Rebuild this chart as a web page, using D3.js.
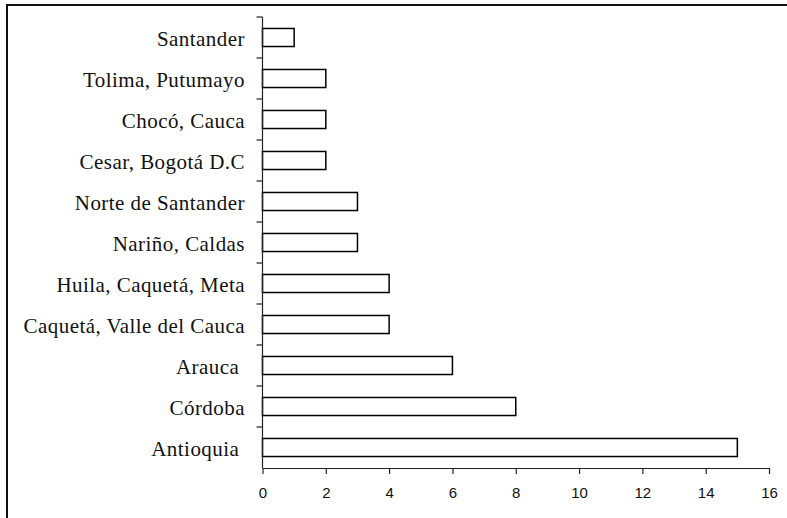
<!DOCTYPE html>
<html>
<head>
<meta charset="utf-8">
<script src="https://cdn.jsdelivr.net/npm/d3@7"></script>
<style>
  html, body { margin: 0; padding: 0; background: #fff; }
  svg { display: block; }
</style>
</head>
<body>
<script>
const categories = [
  "Santander",
  "Tolima, Putumayo",
  "Chocó, Cauca",
  "Cesar, Bogotá D.C",
  "Norte de Santander",
  "Nariño, Caldas",
  "Huila, Caquetá, Meta",
  "Caquetá, Valle del Cauca",
  "Arauca ",
  "Córdoba",
  "Antioquia "
];
const values = [1, 2, 2, 2, 3, 3, 4, 4, 6, 8, 15];
const xTicks = [0, 2, 4, 6, 8, 10, 12, 14, 16];

(function () {
const W = 787, H = 518;
const svg = d3.select("body").append("svg").attr("width", W).attr("height", H);

// outer frame
svg.append("rect")
  .attr("x", 7).attr("y", 5)
  .attr("width", W + 10).attr("height", H + 10)
  .attr("fill", "none").attr("stroke", "#111").attr("stroke-width", 2);

const mLeft = 262.5, mRight = 769, mTop = 17, mBottom = 468;

const x = d3.scaleLinear().domain([0, 16]).range([mLeft, mRight]);
const y = d3.scaleBand().domain(categories).range([mTop, mBottom])
  .paddingInner(0.56).paddingOuter(0.28);

// bars
svg.append("g").selectAll("rect")
  .data(categories)
  .join("rect")
  .attr("x", x(0))
  .attr("y", d => y(d))
  .attr("width", (d, i) => x(values[i]) - x(0))
  .attr("height", y.bandwidth())
  .attr("fill", "#fff")
  .attr("stroke", "#000")
  .attr("stroke-width", 1.5);

// y axis line and band ticks
const step = y.step();
const gy = svg.append("g").attr("stroke", "#222").attr("stroke-width", 1.2);
gy.append("line").attr("x1", mLeft).attr("x2", mLeft).attr("y1", mTop).attr("y2", mBottom);
d3.range(categories.length).forEach(i => {
  const yy = mTop + i * step;
  gy.append("line").attr("x1", mLeft - 6).attr("x2", mLeft).attr("y1", yy).attr("y2", yy);
});

// category labels
svg.append("g").selectAll("text")
  .data(categories)
  .join("text")
  .attr("x", 245)
  .attr("y", d => y(d) + y.bandwidth() / 2 + 8.5)
  .attr("text-anchor", "end")
  .style("white-space", "pre")
  .style("letter-spacing", "0.45px")
  .attr("font-family", "'Liberation Serif', 'Times New Roman', serif")
  .attr("font-size", 21)
  .attr("fill", "#111")
  .text(d => d);

// x axis
const xAxis = d3.axisBottom(x).tickValues(xTicks).tickSize(6).tickSizeOuter(0).tickFormat(d3.format("d"));
const gx = svg.append("g").attr("transform", `translate(0,${mBottom})`).call(xAxis);
gx.select(".domain").attr("stroke", "#222").attr("stroke-width", 1.2);
gx.selectAll(".tick line").attr("stroke", "#222").attr("stroke-width", 1.2);
gx.selectAll(".tick text")
  .attr("font-family", "'Liberation Sans', Arial, sans-serif")
  .attr("font-size", 15)
  .attr("fill", "#111")
  .attr("y", 19)
  .attr("dy", "0.71em");
})();
</script>
</body>
</html>
